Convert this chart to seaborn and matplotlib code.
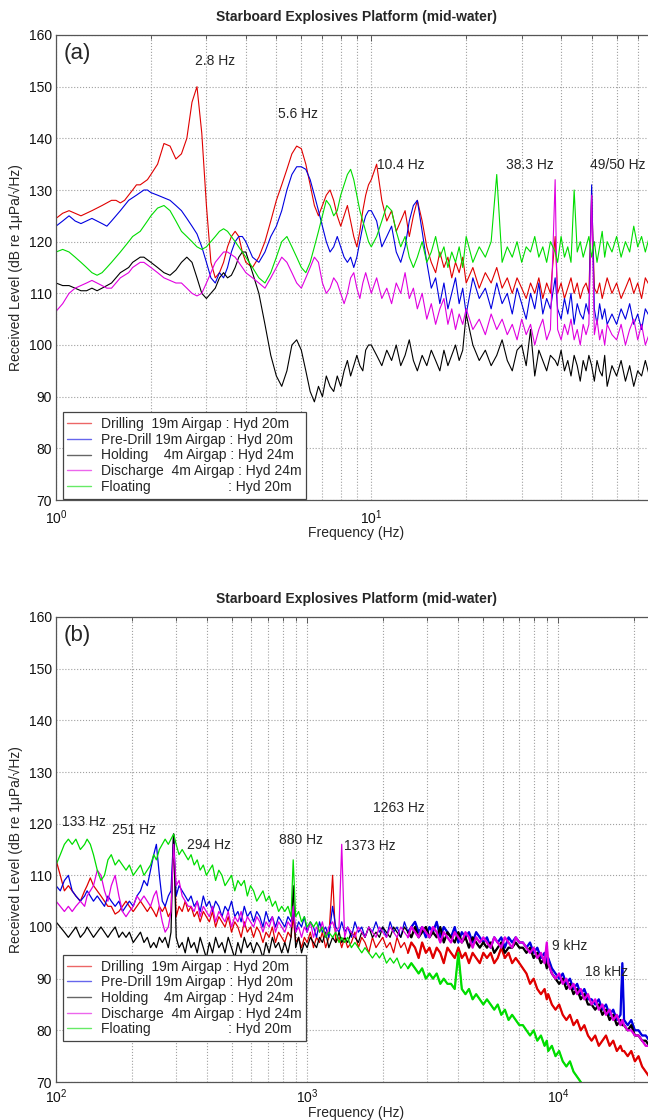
import numpy as np
import pandas as pd
import matplotlib
matplotlib.use("Agg")
import matplotlib.pyplot as plt
import seaborn as sns

# ---------------- data: panel (a) ----------------
f_top = [1.0, 1.05, 1.1, 1.15, 1.2, 1.25, 1.3, 1.35, 1.4, 1.45,
         1.5, 1.55, 1.6, 1.65, 1.7, 1.75, 1.8, 1.85, 1.9, 1.95,
         2.0, 2.1, 2.2, 2.3, 2.4, 2.5, 2.6, 2.7, 2.8, 2.9,
         3.0, 3.1, 3.2, 3.3, 3.4, 3.5, 3.6, 3.7, 3.8, 3.9,
         4.0, 4.2, 4.4, 4.6, 4.8, 5.0, 5.2, 5.4, 5.6, 5.8,
         6.0, 6.2, 6.4, 6.6, 6.8, 7.0, 7.2, 7.4, 7.6, 7.8,
         8.0, 8.2, 8.4, 8.6, 8.8, 9.0, 9.2, 9.4, 9.6, 9.8,
         10.0, 10.4, 10.8, 11.2, 11.6, 12.0, 12.4, 12.8, 13.2, 13.6,
         14.0, 14.5, 15, 15.5, 16, 16.5, 17, 17.5, 18, 18.5,
         19, 19.5, 20, 21, 22, 23, 24, 25, 26, 27,
         28, 29, 30, 31, 32, 33, 34, 35, 36, 37,
         38.3, 39, 40, 41, 42, 43, 44, 45, 46, 47,
         48, 49, 50, 51, 52, 53, 54, 55, 56, 58,
         60, 62, 64, 66, 68, 70, 72, 74, 77, 80]

drilling_a = [124.5, 125.5, 126, 125.5, 125, 125.5, 126, 126.5, 127, 127.5,
              128, 128, 127.5, 128, 129, 130, 131, 131, 131.5, 132,
              133, 135, 139, 138.5, 136, 137, 140, 147, 150, 141,
              127, 116, 113, 114, 116, 119, 121, 122, 121, 118,
              116, 115, 117, 120, 124, 128, 131, 134, 137, 138.5,
              138, 135, 131, 127, 125, 127, 129, 130, 128, 125,
              123, 125, 127, 124, 121, 119, 122, 126, 129, 131,
              132, 135, 128, 124, 126, 122, 124, 126, 121, 125,
              128, 124, 119, 116, 114, 118, 115, 117, 113, 116,
              114, 117, 112, 115, 111, 114, 112, 115, 111, 113,
              110, 113, 111, 109, 112, 110, 113, 109, 112, 110,
              121, 110, 112, 109, 111, 113, 110, 112, 109, 111,
              112, 110, 129, 111, 110, 112, 109, 111, 113, 110,
              112, 109, 111, 113, 110, 112, 109, 113, 111, 110]

predrill_a = [123, 124, 125, 124, 123.5, 124, 124.5, 124, 123.5, 123,
              124, 125, 126, 127, 128, 128.5, 129, 129.5, 130, 130,
              129.5, 129, 128.5, 128, 127, 126, 124.5, 123, 121.5, 119,
              116, 113, 112, 114, 113, 115, 118, 120, 121, 121,
              120, 117, 116, 118, 121, 123, 126, 130, 133, 134.5,
              134.5, 134, 132, 129, 126, 123, 120, 118, 119, 121,
              119, 117, 116, 117, 115, 117, 120, 123, 125, 126,
              126, 124, 119, 121, 123, 118, 116, 119, 124, 127,
              128, 122, 116, 111, 113, 108, 112, 107, 110, 113,
              108, 111, 106, 113, 109, 111, 107, 112, 108, 110,
              106, 111, 108, 105, 110, 107, 112, 106, 109, 107,
              113, 107, 105, 109, 106, 110, 104, 108, 106, 105,
              108, 106, 131, 107, 104, 108, 105, 107, 104, 106,
              104, 107, 105, 108, 104, 106, 103, 107, 105, 106]

holding_a = [112, 111.5, 111.5, 111, 110.5, 110.5, 111, 110.5, 111, 111.5,
             112, 113, 114, 114.5, 115, 116, 116.5, 117, 117, 116.5,
             116, 115, 114, 113.5, 114.5, 116, 117, 116, 113, 110,
             109, 110, 111, 113, 114, 113, 113.5, 115, 117, 118,
             118, 114, 110, 104, 98, 94, 92, 95, 100, 101,
             99, 95, 91, 89, 92, 90, 94, 92, 91, 94,
             92, 95, 97, 94, 96, 98, 96, 95, 99, 100,
             100, 98, 96, 99, 97, 100, 96, 98, 101, 97,
             95, 98, 96, 99, 97, 95, 99, 96, 98, 100,
             97, 99, 106, 100, 97, 99, 96, 98, 101, 97,
             95, 99, 100, 96, 103, 94, 99, 97, 95, 98,
             97, 96, 99, 95, 97, 94, 98, 96, 93, 97,
             95, 98, 96, 93, 97, 95, 94, 98, 92, 96,
             94, 97, 93, 96, 92, 95, 94, 97, 93, 95]

discharge_a = [106.5, 108, 110, 111, 111.5, 112, 112.5, 112, 111.5, 111,
               111, 112, 113, 113.5, 114, 115, 115.5, 116, 116, 115.5,
               115, 114, 113, 112.5, 112, 112, 111, 110, 109.5, 110,
               112, 114, 116, 117, 118, 118, 117.5, 117, 116, 115,
               114, 113, 112, 111, 113, 115, 117, 116, 114, 112,
               111, 113, 115, 117, 116, 112, 110, 111, 113, 112,
               110, 108, 110, 113, 114, 111, 109, 112, 114, 112,
               110, 113, 109, 111, 108, 112, 110, 114, 109, 111,
               107, 110, 105, 108, 104, 107, 109, 104, 107, 103,
               106, 104, 107, 103, 105, 102, 106, 103, 105, 102,
               104, 101, 105, 102, 104, 100, 103, 105, 101, 103,
               132, 103, 101, 104, 102, 105, 101, 103, 100, 104,
               102, 104, 129, 102, 105, 101, 103, 100, 104, 102,
               101, 104, 100, 103, 105, 101, 104, 100, 103, 102]

floating_a = [118, 118.5, 118, 117, 116, 115, 114, 113.5, 114, 115,
              116, 117, 118, 119, 120, 121, 121.5, 122, 123, 124,
              125, 126.5, 127, 126, 124, 122, 121, 120, 119, 118.5,
              119, 120, 121, 122, 122.5, 122, 121, 120, 119, 118,
              117, 115, 113, 112, 114, 117, 120, 121, 119, 117,
              115, 114, 116, 119, 122, 125, 128, 127, 125, 126,
              129, 131, 133, 134, 132, 129, 126, 124, 122, 120,
              119, 121, 124, 127, 126, 122, 119, 121, 117, 115,
              117, 120, 116, 118, 121, 117, 119, 115, 118, 116,
              119, 115, 121, 116, 119, 117, 120, 133, 116, 119,
              117, 120, 116, 119, 118, 121, 117, 119, 116, 120,
              118, 116, 121, 117, 119, 116, 130, 118, 120, 117,
              119, 121, 117, 120, 116, 119, 122, 117, 120, 118,
              121, 117, 120, 118, 123, 119, 121, 118, 122, 119]

# ---------------- data: panel (b) ----------------
f_bot = [100, 104, 108, 112, 116, 120, 125, 130, 133, 137,
         141, 146, 151, 156, 161, 166, 172, 178, 184, 190,
         196, 203, 210, 217, 224, 231, 238, 245, 251, 258,
         265, 272, 280, 287, 294, 301, 309, 318, 327, 336,
         345, 355, 365, 375, 386, 397, 408, 420, 432, 445,
         458, 471, 485, 500, 515, 530, 546, 562, 578, 595,
         612, 630, 648, 667, 686, 706, 727, 748, 770, 792,
         815, 839, 863, 880, 900, 925, 950, 975, 1000, 1030,
         1060, 1090, 1120, 1150, 1185, 1220, 1263, 1300, 1340, 1373,
         1410, 1450, 1500, 1550, 1600, 1650, 1700, 1760, 1820, 1880,
         1940, 2000, 2070, 2140, 2210, 2280, 2360, 2440, 2520, 2600,
         2690, 2780, 2870, 2970, 3070, 3170, 3280, 3390, 3500, 3620,
         3740, 3870, 4000, 4130, 4270, 4410, 4560, 4710, 4870, 5030,
         5200, 5380, 5560, 5740, 5930, 6130, 6340, 6550, 6770, 7000,
         7230, 7470, 7720, 7980, 8250, 8530, 8820, 9000, 9120, 9430,
         9750, 10080, 10420, 10770, 11130, 11500, 11890, 12290, 12700, 13130,
         13570, 14030, 14500, 14990, 15490, 16010, 16550, 17110, 17690, 18000,
         18280, 18900, 19530, 20190, 20870, 21570, 22300, 23050, 23830, 25000]

drilling_b = [113, 110, 107, 108, 107, 106, 105, 107, 108, 109.5,
              108, 107, 106, 105, 104, 104, 102.5, 103, 104, 105,
              104, 103, 104, 105, 104, 103, 104, 103, 102, 104,
              103, 104, 102, 103, 118, 102, 104, 103, 105, 103,
              104, 102, 103, 101, 103, 102, 101, 103, 100, 102,
              101, 100, 102, 99, 101, 100, 98, 101, 99, 100,
              98, 100, 99, 97, 99, 98, 100, 97, 99, 98,
              97, 99, 98, 102, 97, 98, 96, 98, 97, 99,
              96, 98, 97, 99, 96, 98, 110, 97, 98, 96,
              98, 96, 97, 99, 96, 98, 97, 95, 98, 96,
              97, 98, 96, 97, 95, 98, 96, 97, 95, 97,
              96, 94, 97, 95, 96, 94, 96, 95, 93, 96,
              95, 94, 96, 94, 95, 93, 95, 94, 93, 95,
              94, 95, 93, 94, 96, 94, 95, 93, 94, 93,
              92, 91, 89, 90, 88, 87, 88, 86, 87, 85,
              84, 85, 83, 82, 83, 81, 82, 80, 81, 79,
              78, 79, 77, 78, 79, 77, 78, 76, 77, 76,
              76, 75, 76, 74, 75, 73, 72, 71, 70, 69]

predrill_b = [108, 107, 109, 110, 107, 106, 105, 106, 107, 106,
              105, 106, 105, 104, 106, 105, 104, 105, 103, 104,
              105, 104, 106, 107, 109, 108, 111, 114, 116, 110,
              105, 104, 106, 107, 118, 106, 108, 107, 106, 105,
              106, 104, 105, 103, 106, 104, 105, 103, 105, 104,
              102, 104, 103, 105, 102, 103, 101, 104, 102, 103,
              101, 103, 102, 100, 103, 101, 102, 100, 102, 101,
              100, 102, 101, 103, 99, 101, 100, 102, 99, 101,
              100, 98, 101, 99, 100, 98, 104, 100, 99, 101,
              99, 100, 98, 101, 99, 100, 98, 100, 99, 101,
              99, 100, 98, 101, 99, 100, 98, 101, 99, 100,
              101, 99, 100, 98, 100, 99, 101, 98, 100, 99,
              98, 100, 97, 99, 98, 99, 97, 99, 98, 97,
              98, 96, 98, 97, 98, 96, 98, 97, 98, 97,
              97, 96, 97, 95, 96, 94, 95, 93, 94, 92,
              91, 90, 91, 89, 90, 88, 89, 87, 88, 86,
              86, 85, 86, 84, 85, 83, 84, 82, 83, 93,
              82, 81, 82, 80, 80, 79, 79, 78, 77, 76]

holding_b = [101, 100, 99, 98, 99, 100, 98, 99, 100, 99,
             98, 99, 100, 99, 98, 99, 100, 98, 99, 98,
             99, 97, 98, 99, 97, 98, 96, 97, 96, 98,
             97, 98, 96, 99, 118, 98, 96, 97, 95, 98,
             96, 97, 95, 98, 96, 94, 97, 95, 98, 96,
             97, 95, 98, 96, 94, 97, 95, 98, 96, 97,
             95, 97, 96, 94, 97, 95, 98, 96, 97, 95,
             97, 95, 98, 108, 96, 98, 95, 97, 96, 98,
             97, 96, 98, 97, 99, 96, 98, 97, 99, 97,
             98, 97, 99, 98, 97, 99, 98, 100, 98, 99,
             98, 100, 99, 98, 100, 99, 98, 100, 99, 98,
             100, 98, 99, 100, 98, 99, 98, 100, 97, 99,
             98, 97, 99, 97, 98, 96, 98, 97, 96, 97,
             96, 97, 95, 96, 97, 95, 96, 96, 97, 96,
             96, 95, 96, 94, 95, 93, 94, 92, 93, 91,
             90, 89, 90, 88, 89, 87, 88, 86, 87, 85,
             85, 84, 85, 83, 84, 82, 83, 81, 82, 81,
             81, 80, 81, 79, 79, 78, 78, 77, 76, 75]

discharge_b = [105, 104, 103, 104, 103, 104, 105, 104, 106, 107,
               108, 111, 110, 107, 105, 108, 110, 106, 103, 102,
               103, 104, 106, 105, 106, 105, 104, 106, 107, 104,
               101, 99, 100, 103, 116, 108, 109, 106, 105, 104,
               104, 103, 105, 102, 104, 103, 102, 104, 101, 103,
               102, 101, 103, 100, 102, 101, 103, 100, 102, 101,
               100, 102, 101, 99, 101, 100, 102, 99, 101, 100,
               99, 101, 100, 104, 99, 100, 98, 100, 99, 101,
               98, 100, 99, 101, 98, 100, 101, 99, 100, 116,
               98, 100, 99, 98, 100, 99, 98, 100, 99, 98,
               100, 99, 98, 100, 99, 98, 100, 99, 98, 100,
               99, 98, 100, 99, 98, 100, 99, 97, 99, 98,
               97, 99, 98, 97, 99, 98, 96, 98, 97, 98,
               97, 96, 98, 97, 96, 98, 97, 96, 98, 97,
               97, 96, 95, 96, 94, 95, 93, 97, 93, 91,
               90, 91, 89, 90, 88, 89, 87, 88, 86, 87,
               85, 86, 84, 85, 83, 84, 82, 83, 81, 82,
               81, 80, 80, 79, 79, 78, 77, 77, 76, 75]

floating_b = [112, 114, 116, 117, 116, 117, 115, 116, 117, 116,
              114, 111, 109, 110, 113, 114, 112, 113, 112, 111,
              112, 110, 111, 112, 110, 111, 112, 114, 113, 115,
              116, 117, 116, 117, 118, 116, 114, 115, 114, 113,
              114, 112, 113, 111, 112, 110, 111, 112, 109, 111,
              110, 108, 109, 110, 107, 109, 108, 109, 106, 108,
              107, 105, 106, 107, 105, 106, 104, 105, 103, 104,
              103, 104, 102, 113, 102, 103, 101, 102, 100, 101,
              100, 101, 99, 100, 98, 99, 98, 99, 97, 98,
              97, 98, 96, 97, 96, 95, 96, 95, 94, 95,
              94, 95, 93, 94, 93, 94, 92, 93, 92, 93,
              92, 91, 92, 90, 91, 90, 91, 89, 90, 89,
              89, 88, 95, 88, 87, 88, 86, 87, 86, 85,
              86, 85, 84, 85, 83, 84, 82, 83, 82, 81,
              81, 80, 79, 80, 78, 79, 77, 78, 76, 77,
              75, 76, 74, 73, 74, 72, 71, 70, 69, 68,
              67, 66, 66, 65, 65, 64, 64, 63, 63, 62,
              62, 61, 61, 60, 60, 59, 59, 58, 58, 57]

series_names = ["Drilling", "Pre-Drill", "Holding", "Discharge", "Floating"]
legend_labels = ["Drilling  19m Airgap : Hyd 20m",
                 "Pre-Drill 19m Airgap : Hyd 20m",
                 "Holding    4m Airgap : Hyd 24m",
                 "Discharge  4m Airgap : Hyd 24m",
                 "Floating                    : Hyd 20m"]
yticks = [70, 80, 90, 100, 110, 120, 130, 140, 150, 160]

annot_a = [("2.8 Hz", 3.19, 155.0), ("5.6 Hz", 5.85, 144.7), ("10.4 Hz", 12.4, 134.8),
           ("38.3 Hz", 31.9, 134.8), ("49/50 Hz", 60.5, 134.8)]
annot_b = [("133 Hz", 129, 120.3), ("251 Hz", 205, 118.8), ("294 Hz", 407, 115.9),
           ("880 Hz", 947, 116.8), ("1263 Hz", 2326, 123.0), ("1373 Hz", 1782, 115.7),
           ("9 kHz", 11070, 96.3), ("18 kHz", 15500, 91.3)]

palette = {"Drilling": "#e00000", "Pre-Drill": "#0000e0", "Holding": "#000000",
           "Discharge": "#e000e0", "Floating": "#00dd00"}


def make_df(freqs, arrays):
    frames = []
    for name, vals in zip(series_names, arrays):
        assert len(vals) == len(freqs), (name, len(vals), len(freqs))
        frames.append(pd.DataFrame({"f": freqs, "L": vals, "series": name}))
    return pd.concat(frames, ignore_index=True)


df_a = make_df(f_top, [drilling_a, predrill_a, holding_a, discharge_a, floating_a])
df_b = make_df(f_bot, [drilling_b, predrill_b, holding_b, discharge_b, floating_b])

sns.set_theme(style="white")
plt.rcParams["font.family"] = ["Liberation Sans", "DejaVu Sans"]
plt.rcParams["mathtext.fontset"] = "custom"
plt.rcParams["mathtext.rm"] = "Liberation Sans"
plt.rcParams["mathtext.it"] = "Liberation Sans:italic"
plt.rcParams["mathtext.bf"] = "Liberation Sans:bold"

fig = plt.figure(figsize=(6.48, 11.2), dpi=100)
W = 600 / 648
H = 465 / 1120
ax1 = fig.add_axes([56 / 648, 1 - 500 / 1120, W, H])
ax2 = fig.add_axes([56 / 648, 1 - 1082 / 1120, W, H])


def style(ax, df, xlim, panel, annots, leg_y, lw, tpad, xpad, thick_from=None):
    sns.lineplot(data=df, x="f", y="L", hue="series", hue_order=series_names,
                 palette=palette, estimator=None, sort=False, linewidth=lw, ax=ax)
    if thick_from is not None:
        hi = df[df["f"] >= thick_from]
        sns.lineplot(data=hi, x="f", y="L", hue="series", hue_order=series_names,
                     palette=palette, estimator=None, sort=False, linewidth=1.6,
                     legend=False, ax=ax)
    ax.set_xscale("log")
    ax.set_xlim(*xlim)
    ax.set_ylim(70, 160)
    ax.set_yticks(yticks)
    ax.grid(True, which="major", axis="both", linestyle=":", color="#a0a0a0", linewidth=0.8)
    ax.grid(True, which="minor", axis="x", linestyle=":", color="#a0a0a0", linewidth=0.8)
    ax.tick_params(axis="both", which="both", direction="in", top=True, right=True,
                   labelsize=10, labelcolor="#111111", color="#444444")
    ax.tick_params(axis="x", which="both", pad=tpad)
    ax.tick_params(axis="y", which="both", pad=3)
    ax.tick_params(axis="both", which="major", length=4, width=0.6)
    ax.tick_params(axis="x", which="minor", length=3, width=0.6)
    for s in ax.spines.values():
        s.set_color("#555555")
        s.set_linewidth(0.9)
    ax.set_xlabel("Frequency (Hz)", fontsize=10, labelpad=xpad)
    ax.set_ylabel("Received Level (dB re 1\u03bcPa/\u221aHz)", fontsize=10, labelpad=4)
    ax.set_title("Starboard Explosives Platform (mid-water)", fontsize=10,
                 fontweight="bold", pad=10)
    ax.text(0.012, 0.982, panel, transform=ax.transAxes, ha="left", va="top", fontsize=16)
    for txt, x, y in annots:
        ax.text(x, y, txt, ha="center", va="center", fontsize=10)
    handles, _ = ax.get_legend_handles_labels()
    leg = ax.legend(handles[:5], legend_labels, loc="lower left",
                    bbox_to_anchor=(0.011, leg_y), borderaxespad=0,
                    fontsize=10, frameon=True, fancybox=False, framealpha=1,
                    edgecolor="#444444", handlelength=1.7, handletextpad=0.7,
                    labelspacing=0.12, borderpad=0.35)
    leg.get_frame().set_linewidth(0.9)
    for h in leg.get_lines():
        h.set_linewidth(1.0)
        h.set_alpha(0.6)


style(ax1, df_a, (1, 80), "(a)", annot_a, 0.003, 0.8, 6, -1)
style(ax2, df_b, (100, 24500), "(b)", annot_b, 0.088, 0.9, 4, 0, thick_from=2500)

fig.savefig("out.png", dpi=100)
